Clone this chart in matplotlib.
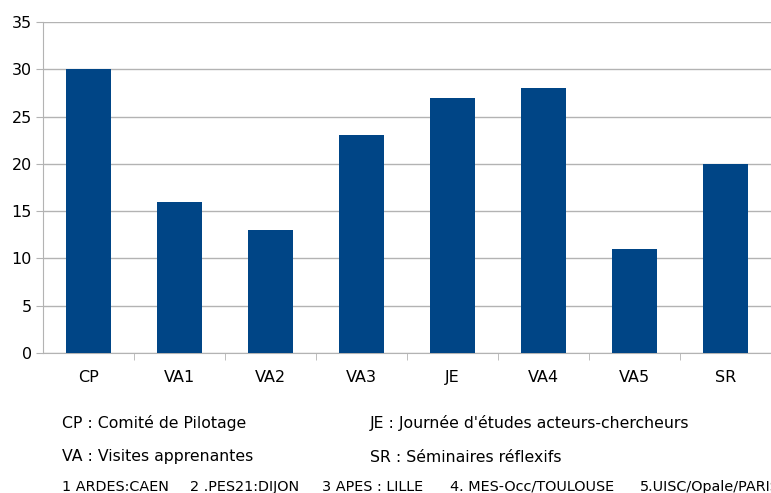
import matplotlib.pyplot as plt

categories = ['CP', 'VA1', 'VA2', 'VA3', 'JE', 'VA4', 'VA5', 'SR']
values = [30, 16, 13, 23, 27, 28, 11, 20]
yticks = [0, 5, 10, 15, 20, 25, 30, 35]

notes_left = ['CP : Comité de Pilotage', 'VA : Visites apprenantes']
notes_right = ["JE : Journée d'études acteurs-chercheurs", 'SR : Séminaires réflexifs']
sites = ['1 ARDES:CAEN', '2 .PES21:DIJON', '3 APES : LILLE', '4. MES-Occ/TOULOUSE', '5.UISC/Opale/PARIS']

plt.rcParams['font.family'] = ['DejaVu Sans']

fig = plt.figure(figsize=(7.71, 4.93), dpi=100)
ax = fig.add_axes([43/771, 1 - 353/493, 1 - 43/771, 331/493])

x = list(range(len(categories)))
ax.bar(x, values, width=0.49, color='#004586', zorder=3)

ax.set_xlim(-0.5, len(categories) - 0.5)
ax.set_ylim(0, 35)
ax.set_yticks(yticks)
ax.set_xticks(x)
ax.set_xticklabels(categories, fontsize=11.5)
ax.set_xticks([i + 0.5 for i in x[:-1]], minor=True)
ax.tick_params(axis='x', which='major', length=0, pad=12)
ax.tick_params(axis='x', which='minor', length=5, color='#b3b3b3', direction='out')
ax.tick_params(axis='y', length=5, color='#b3b3b3', labelsize=11.5, pad=3)
ax.yaxis.grid(True, color='#b3b3b3', linewidth=1, zorder=0)

for side in ['top', 'right']:
    ax.spines[side].set_visible(False)
ax.spines['left'].set_color('#b3b3b3')
ax.spines['bottom'].set_color('#b3b3b3')

# notes under the chart
fig.text(62/771, 1 - 423/493, notes_left[0], fontsize=11.3, va='center')
fig.text(370/771, 1 - 423/493, notes_right[0], fontsize=11.3, va='center')
fig.text(62/771, 1 - 457/493, notes_left[1], fontsize=11.3, va='center')
fig.text(370/771, 1 - 457/493, notes_right[1], fontsize=11.3, va='center')

# sites line, cut at the right edge like the original
site_x = [62, 190, 322, 450, 640]
for sx, label in zip(site_x, sites):
    fig.text(sx/771, 1 - 487/493, label, fontsize=10.4, va='center')

fig.savefig('out.png', dpi=100)
